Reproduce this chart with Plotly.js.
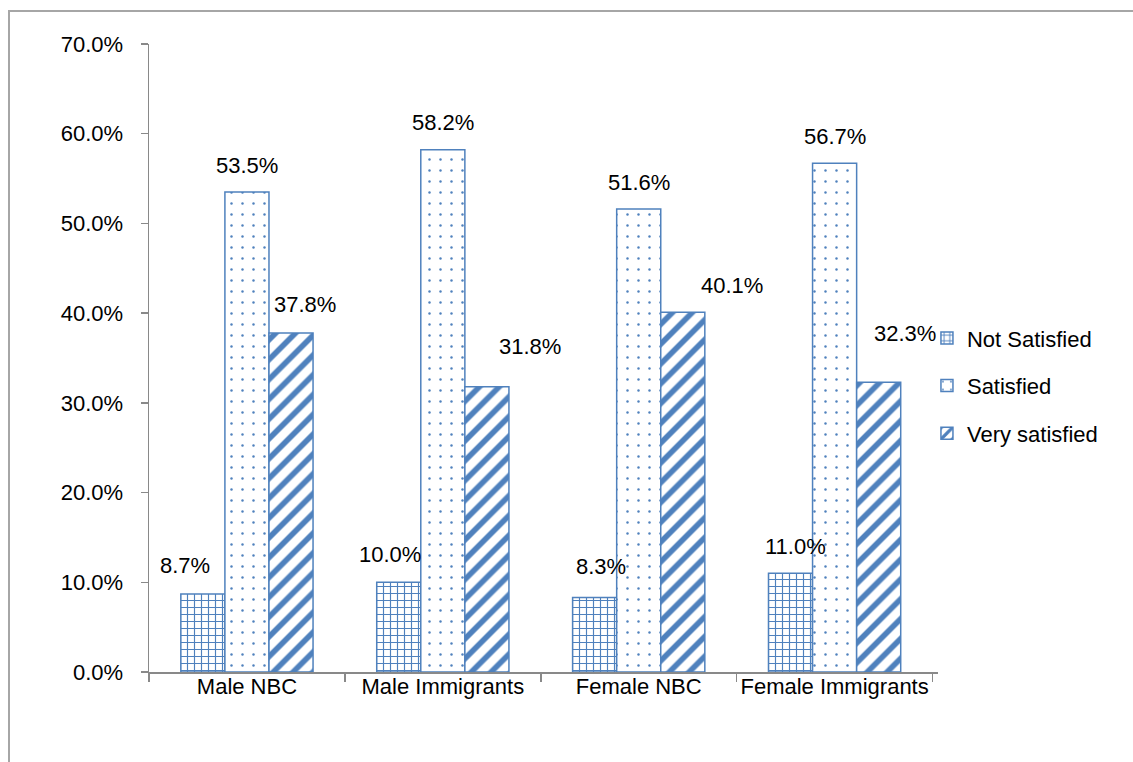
<!DOCTYPE html>
<html>
<head>
<meta charset="utf-8">
<script src="https://cdn.plot.ly/plotly-3.0.1.min.js"></script>
<style>
  html, body { margin: 0; padding: 0; background: #fff; }
  #chart { width: 1133px; height: 762px; }
  #frame { position: absolute; left: 8px; top: 10px; width: 1125px; height: 752px;
           border-left: 2px solid #a6a6a6; border-top: 2px solid #a6a6a6; pointer-events: none; box-sizing: border-box; }
</style>
</head>
<body>
<div id="chart"></div>
<div id="frame"></div>
<script>
// ---- data ----
const categories = ['Male NBC', 'Male Immigrants', 'Female NBC', 'Female Immigrants'];
const seriesNames = ['Not Satisfied', 'Satisfied', 'Very satisfied'];
const notSatisfied = [8.7, 10.0, 8.3, 11.0];
const satisfied = [53.5, 58.2, 51.6, 56.7];
const verySatisfied = [37.8, 31.8, 40.1, 32.3];

// ---- style ----
const blue = '#4F81BD';
const font = 'Liberation Sans, Arial, sans-serif';
const fontSize = 22;
const barPx = 44.4; // approx pixel width of one bar (used to place labels)

// label offsets (pixels) relative to each bar's top centre, mimicking the original placement
const labelShiftX = [[-18, -8, 7, 5], [0, 0, 0, 0], [14, 43, 49, 26]];
const labelShiftY = [[28, 28, 31, 27], [27, 27, 27, 27], [28, 40, 27, 49]];

const allSeries = [notSatisfied, satisfied, verySatisfied];
const shapes = ['+', '.', '/'];
const psize = [7, 11, 14];
const psol = [0.3, 0.04, 0.4];

const traces = allSeries.map((vals, i) => ({
  type: 'bar',
  name: seriesNames[i],
  x: categories,
  y: vals,
  legendgroup: 'g' + i,
  marker: {
    color: '#ffffff',
    line: { color: blue, width: 1.5 },
    pattern: { shape: shapes[i], fgcolor: blue, bgcolor: '#ffffff', size: psize[i], solidity: psol[i], fillmode: 'replace' }
  },
  hoverinfo: 'x+y'
}));

const annotations = [];
allSeries.forEach((vals, i) => {
  vals.forEach((v, j) => {
    annotations.push({
      x: categories[j], y: v, xref: 'x', yref: 'y',
      text: v.toFixed(1) + '%',
      showarrow: false,
      xanchor: 'center', yanchor: 'middle',
      xshift: (i - 1) * barPx + labelShiftX[i][j],
      yshift: labelShiftY[i][j],
      font: { family: font, size: fontSize, color: '#000' }
    });
  });
});

const layout = {
  width: 1133, height: 762,
  margin: { l: 149, r: 195, t: 44, b: 90, pad: 0 },
  paper_bgcolor: '#fff', plot_bgcolor: '#fff',
  font: { family: font, size: fontSize, color: '#000' },
  barmode: 'group',
  bargap: 0.325,
  bargroupgap: 0,
  showlegend: true,
  legend: {
    x: 0.986, xanchor: 'left', y: 0.565, yanchor: 'top',
    bgcolor: 'rgba(0,0,0,0)',
    traceorder: 'grouped', tracegroupgap: 16,
    font: { family: font, size: fontSize, color: '#000' },
    itemwidth: 30
  },
  xaxis: {
    type: 'category',
    showline: true, linecolor: '#898989', linewidth: 1.5,
    ticks: 'outside', ticklen: 8, tickcolor: '#898989', tickwidth: 1.5,
    tickson: 'boundaries',
    tickangle: 0,
    showgrid: false, zeroline: false,
    tickfont: { family: font, size: fontSize, color: '#000' },
    ticklabelstandoff: -6
  },
  yaxis: {
    range: [0, 70], dtick: 10, tick0: 0,
    tickformat: '.1f', ticksuffix: '%',
    showline: true, linecolor: '#898989', linewidth: 1.5,
    ticks: 'outside', ticklen: 7, tickcolor: '#898989', tickwidth: 1.5,
    showgrid: false, zeroline: false,
    tickfont: { family: font, size: fontSize, color: '#000' },
    ticklabelstandoff: 13
  },
  annotations: annotations
};

Plotly.newPlot('chart', traces, layout, { displayModeBar: false, staticPlot: true });
</script>
</body>
</html>
